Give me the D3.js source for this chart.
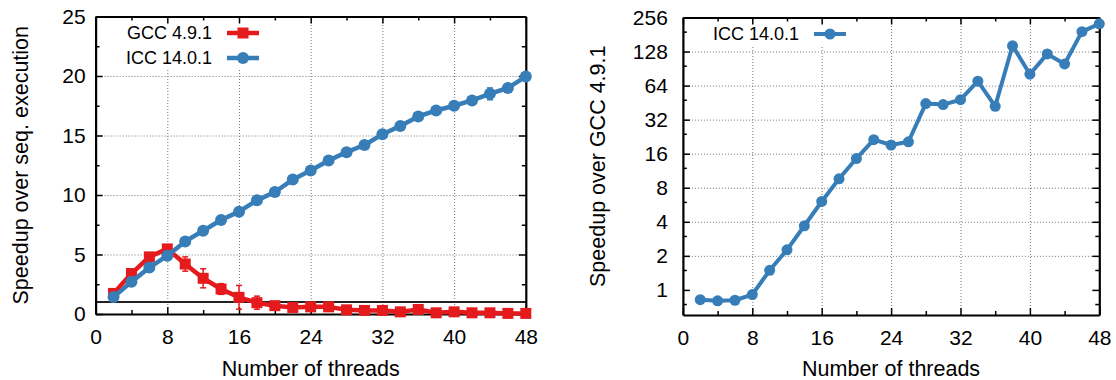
<!DOCTYPE html>
<html>
<head>
<meta charset="utf-8">
<script src="https://cdn.jsdelivr.net/npm/d3@7"></script>
<style>
  body { margin: 0; background: #fff; }
  text { font-family: "Liberation Sans", Arial, Helvetica, sans-serif; fill: #000; }
</style>
</head>
<body>
<svg id="chart" width="1116" height="380"></svg>
<script>
// thread counts on the x axis
var threads = [2, 4, 6, 8, 10, 12, 14, 16, 18, 20, 22, 24, 26, 28, 30, 32, 34, 36, 38, 40, 42, 44, 46, 48]

// left panel: speedup over sequential execution
var gccSpeedup = [1.73, 3.4, 4.8, 5.47, 4.2, 3.0, 2.1, 1.4, 0.95, 0.7, 0.55, 0.6, 0.6, 0.35, 0.3, 0.3, 0.18, 0.38, 0.1, 0.18, 0.1, 0.1, 0.05, 0.05]
var gccErr     = [0.1, 0.1, 0.1, 0.1, 0.6, 0.8, 0.45, 1.0, 0.55, 0.1, 0.1, 0.1, 0.1, 0.05, 0.05, 0.05, 0.05, 0.05, 0.05, 0.05, 0.05, 0.05, 0.05, 0.05]
var iccSpeedup = [1.42, 2.7, 3.9, 4.9, 6.1, 7.0, 7.9, 8.6, 9.55, 10.25, 11.3, 12.06, 12.9, 13.6, 14.2, 15.1, 15.8, 16.6, 17.1, 17.5, 17.95, 18.5, 19.0, 19.95]
var iccErr     = [0.05, 0.05, 0.05, 0.05, 0.05, 0.05, 0.05, 0.05, 0.05, 0.05, 0.05, 0.05, 0.05, 0.05, 0.05, 0.05, 0.05, 0.1, 0.1, 0.1, 0.1, 0.5, 0.1, 0.1]

// right panel: ICC speedup over GCC
var iccOverGcc = [0.82, 0.80, 0.81, 0.91, 1.49, 2.26, 3.69, 6.05, 9.6, 14.5, 21.3, 19.1, 20.4, 44.4, 43.5, 48, 70, 42, 144, 80.7, 122, 99.4, 192, 225]

var xMajor = [0, 8, 16, 24, 32, 40, 48]
var xMinor = [4, 12, 20, 28, 36, 44]
var yMajorLin = [0, 5, 10, 15, 20, 25]
var yMinorLin = [2.5, 7.5, 12.5, 17.5, 22.5]
var yMajorLog = [1, 2, 4, 8, 16, 32, 64, 128, 256]
var yMinorLog = [0.75, 1.5, 3, 6, 12, 24, 48, 96, 192]

var red = "#e41a1c", blue = "#377eb8"
var svg = d3.select("#chart")

function styleAxis(g, size) {
    g.selectAll("text").attr("font-size", size).attr("font-family", "Liberation Sans, Arial, sans-serif").attr("fill", "#000")
    g.selectAll(".tick line").attr("stroke", "#000").attr("stroke-width", 1.5)
}

function panel(p) {
    var x = p.x, y = p.y
    var x0 = x.range()[0], x1 = x.range()[1]
    var y0 = y.range()[0], y1 = y.range()[1]
    var g = svg.append("g")

    // dotted grid
    var grid = g.append("g").attr("class", "grid")
    grid.append("g").attr("transform", "translate(0," + y0 + ")")
        .call(d3.axisBottom(x).tickValues(xMajor.slice(1, -1)).tickSize(-(y0 - y1)).tickFormat(""))
    grid.append("g").attr("transform", "translate(" + x0 + ",0)")
        .call(d3.axisLeft(y).tickValues(p.yMajor.slice(1, -1)).tickSize(-(x1 - x0)).tickFormat(""))
    grid.selectAll(".domain").remove()
    grid.selectAll("line").attr("stroke", "#777").attr("stroke-width", 1).attr("stroke-dasharray", "1,2")

    // opaque key background
    g.append("rect").attr("x", p.key.x).attr("y", p.key.y).attr("width", p.key.w).attr("height", p.key.h).attr("fill", "#fff")

    if (p.refLine) {
        g.append("line").attr("x1", x0).attr("x2", x1).attr("y1", y(1)).attr("y2", y(1))
            .attr("stroke", "#222").attr("stroke-width", 2)
    }

    // axes, ticks mirrored inward
    var bottom = g.append("g").attr("transform", "translate(0," + y0 + ")")
        .call(d3.axisBottom(x).tickValues(xMajor).tickSizeInner(-7).tickSizeOuter(0).tickPadding(15))
    var top = g.append("g").attr("transform", "translate(0," + y1 + ")")
        .call(d3.axisTop(x).tickValues(xMajor).tickSizeInner(-7).tickSizeOuter(0).tickFormat(""))
    var left = g.append("g").attr("transform", "translate(" + x0 + ",0)")
        .call(d3.axisLeft(y).tickValues(p.yMajor).tickSizeInner(-7).tickSizeOuter(0).tickPadding(p.yPad).tickFormat(d3.format("d")))
    var right = g.append("g").attr("transform", "translate(" + x1 + ",0)")
        .call(d3.axisRight(y).tickValues(p.yMajor).tickSizeInner(-7).tickSizeOuter(0).tickFormat(""))
    g.append("g").attr("transform", "translate(0," + y0 + ")").attr("class", "minor")
        .call(d3.axisBottom(x).tickValues(xMinor).tickSize(-4).tickFormat(""))
    g.append("g").attr("transform", "translate(0," + y1 + ")").attr("class", "minor")
        .call(d3.axisTop(x).tickValues(xMinor).tickSize(-4).tickFormat(""))
    g.append("g").attr("transform", "translate(" + x0 + ",0)").attr("class", "minor")
        .call(d3.axisLeft(y).tickValues(p.yMinor).tickSize(-4).tickFormat(""))
    g.append("g").attr("transform", "translate(" + x1 + ",0)").attr("class", "minor")
        .call(d3.axisRight(y).tickValues(p.yMinor).tickSize(-4).tickFormat(""))
    g.selectAll(".minor .domain").remove()
    ;[bottom, top, left, right].forEach(function (a) {
        styleAxis(a, 21)
        a.select(".domain").attr("stroke", "#000").attr("stroke-width", 2.2)
    })
    g.selectAll(".minor line").attr("stroke", "#000").attr("stroke-width", 1.5)

    // axis titles
    g.append("text").attr("x", (x0 + x1) / 2).attr("y", 376).attr("text-anchor", "middle")
        .attr("font-size", 21.5).text("Number of threads")
    g.append("text").attr("transform", "translate(" + p.ylabX + "," + (y0 + y1) / 2 + ") rotate(-90)")
        .attr("text-anchor", "middle").attr("dy", "0.35em").attr("font-size", 21.5).text(p.ylabel)

    // series
    var line = d3.line().x(function (d) { return x(d[0]) }).y(function (d) { return y(d[1]) })
    p.series.forEach(function (s) {
        var pts = threads.map(function (t, i) { return [t, s.values[i], s.err ? s.err[i] : 0] })
        g.append("path").datum(pts).attr("d", line).attr("fill", "none")
            .attr("stroke", s.color).attr("stroke-width", s.lw).attr("stroke-linejoin", "round")
        if (s.err) {
            var eb = g.append("g").selectAll("g").data(pts).enter().append("g")
                .attr("stroke", s.color).attr("stroke-width", 1.5)
            eb.append("line").attr("x1", function (d) { return x(d[0]) }).attr("x2", function (d) { return x(d[0]) })
                .attr("y1", function (d) { return y(d[1] - d[2]) }).attr("y2", function (d) { return y(d[1] + d[2]) })
            ;[-1, 1].forEach(function (sg) {
                eb.append("line").attr("x1", function (d) { return x(d[0]) - 3 }).attr("x2", function (d) { return x(d[0]) + 3 })
                    .attr("y1", function (d) { return y(d[1] + sg * d[2]) }).attr("y2", function (d) { return y(d[1] + sg * d[2]) })
            })
        }
        drawMarkers(g, pts.map(function (d) { return [x(d[0]), y(d[1])] }), s)
    })

    // key
    p.series.forEach(function (s, i) {
        var ky = p.key.first + i * 25
        g.append("text").attr("x", p.key.textEnd).attr("y", ky).attr("dy", "0.35em")
            .attr("text-anchor", "end").attr("font-size", 18).text(s.name)
        g.append("line").attr("x1", p.key.textEnd + 15).attr("x2", p.key.textEnd + 47)
            .attr("y1", ky).attr("y2", ky).attr("stroke", s.color).attr("stroke-width", s.lw)
        drawMarkers(g, [[p.key.textEnd + 31, ky]], s)
    })
}

function drawMarkers(g, pts, s) {
    if (s.shape === "square") {
        g.append("g").selectAll("rect").data(pts).enter().append("rect")
            .attr("x", function (d) { return d[0] - s.ms / 2 }).attr("y", function (d) { return d[1] - s.ms / 2 })
            .attr("width", s.ms).attr("height", s.ms).attr("fill", s.color)
    } else {
        g.append("g").selectAll("circle").data(pts).enter().append("circle")
            .attr("cx", function (d) { return d[0] }).attr("cy", function (d) { return d[1] })
            .attr("r", s.ms / 2).attr("fill", s.color)
    }
}

panel({
    x: d3.scaleLinear().domain([0, 48]).range([95.6, 525.8]),
    y: d3.scaleLinear().domain([0, 25]).range([314, 16.5]),
    yMajor: yMajorLin, yMinor: yMinorLin, yPad: 10,
    ylabel: "Speedup over seq. execution", ylabX: 20, refLine: true,
    key: { x: 97, y: 18, w: 178, h: 52, textEnd: 212, first: 33 },
    series: [
        { name: "GCC 4.9.1", values: gccSpeedup, err: gccErr, color: red, shape: "square", ms: 11, lw: 4.5 },
        { name: "ICC 14.0.1", values: iccSpeedup, err: iccErr, color: blue, shape: "circle", ms: 12, lw: 4.5 }
    ]
})

panel({
    x: d3.scaleLinear().domain([0, 48]).range([682.9, 1099.3]),
    y: d3.scaleLog().base(2).domain([0.6, 256]).range([315, 17.5]),
    yMajor: yMajorLog, yMinor: yMinorLog, yPad: 15,
    ylabel: "Speedup over GCC 4.9.1", ylabX: 597, refLine: false,
    key: { x: 684, y: 18, w: 176, h: 27, textEnd: 799, first: 34 },
    series: [
        { name: "ICC 14.0.1", values: iccOverGcc, color: blue, shape: "circle", ms: 11, lw: 4 }
    ]
})
</script>
</body>
</html>
